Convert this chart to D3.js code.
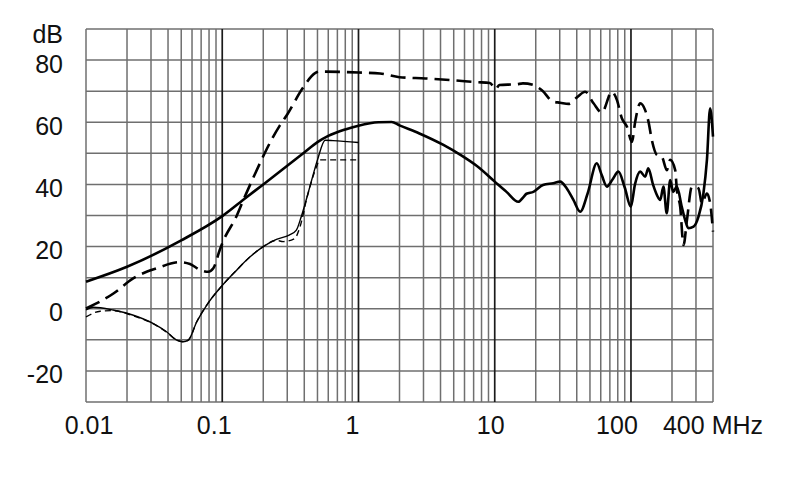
<!DOCTYPE html>
<html>
<head>
<meta charset="utf-8">
<script src="https://cdn.jsdelivr.net/npm/d3@7"></script>
<style>
  html, body { margin: 0; padding: 0; background: #fff; }
  svg { display: block; }
  text { font-family: "Liberation Sans", Arial, sans-serif; fill: #111; }
</style>
</head>
<body>
<svg id="chart" width="790" height="499"></svg>
<script>
// ---- data (frequency in MHz, level in dB) ----
const thickSolidF  = [0.01, 0.02, 0.05, 0.1, 0.15, 0.2, 0.3, 0.4, 0.5, 0.6, 0.8, 1, 1.4, 1.75, 2, 2.8, 4.2, 5.6, 7.4, 10, 12.2, 14.9, 16.3, 17.1, 19.2, 22.6, 26.9, 30.2, 33.8, 37.8, 42.4, 48, 56.1, 61, 66.5, 73, 80.9, 90, 99.8, 107, 116.9, 127, 134, 145, 155, 164, 173, 183, 194, 204, 217, 236, 250, 264, 288, 313, 340, 361, 381, 400];
const thickSolidDb = [8.7, 13.5, 22, 29.8, 35.8, 40, 46, 50.3, 53.6, 55.6, 57.7, 58.9, 60, 60.1, 59, 56.4, 52.7, 49.5, 45.9, 40.9, 37.6, 34.4, 36, 37, 37.6, 39.8, 40.4, 40.9, 38.7, 35, 31.2, 37, 46.8, 43, 39.3, 41.5, 44.1, 39, 32.8, 40, 44.1, 42.5, 45.2, 40, 36.6, 35, 39.3, 30.7, 41.4, 37.6, 39.3, 32.8, 28.5, 25.9, 26.4, 29.6, 37, 47.9, 64.5, 55.4];

const thickDashF  = [0.01, 0.0159, 0.0222, 0.033, 0.049, 0.058, 0.069, 0.079, 0.086, 0.096, 0.101, 0.128, 0.143, 0.19, 0.21, 0.265, 0.3, 0.39, 0.48, 0.52, 1, 1.44, 2, 3.1, 4.7, 7.4, 9.2, 9.8, 10.2, 10.8, 14.4, 16.1, 19.2, 22.3, 26.9, 30.2, 34.8, 40.1, 46.1, 53.1, 61.1, 72.4, 78.8, 85.7, 93.3, 101.6, 107.4, 116.9, 127.1, 134.4, 142.3, 154.8, 168.5, 183.4, 194.1, 211.1, 217.3, 229.8, 243.1, 257.5, 280, 313.3, 331.6, 360.8, 381.4, 400];
const thickDashDb = [0.1, 4.9, 9.8, 13, 15, 14.4, 12.5, 11.9, 13, 19, 21.5, 30, 35, 47, 51, 59, 62.5, 71, 75.8, 76.3, 76, 75.7, 74.5, 74.1, 73.6, 72.9, 72.6, 71.5, 70.7, 72, 72.2, 72.5, 72, 70.2, 66.6, 66.3, 65.9, 68, 69.8, 66.1, 63.1, 69.8, 67.2, 61.3, 58.6, 53.7, 60.2, 66.1, 63.9, 60.2, 54.3, 49.5, 48.9, 44.6, 47.9, 44.6, 38.2, 32.8, 20.5, 28.5, 39.3, 38.7, 33.9, 37.1, 33.9, 24.8];

const thinSolidF  = [0.01, 0.0113, 0.0158, 0.022, 0.031, 0.039, 0.0463, 0.0518, 0.0564, 0.065, 0.077, 0.096, 0.128, 0.16, 0.2, 0.25, 0.31, 0.35, 0.38, 0.44, 0.5, 0.57, 0.65, 1.0];
const thinSolidDb = [-0.4, 0.5, -0.4, -2, -4.7, -7.4, -10.1, -10.6, -10.1, -4.2, 1.2, 6.6, 12.5, 16.7, 20, 22.3, 23.7, 25.3, 29.6, 39.3, 47.9, 54.2, 54.1, 53.5];

const thinDashF  = [0.01, 0.0127, 0.0158, 0.022, 0.031, 0.039, 0.0463, 0.0518, 0.0564, 0.065, 0.077, 0.096, 0.128, 0.16, 0.2, 0.25, 0.28, 0.34, 0.37, 0.42, 0.49, 0.52, 1.0];
const thinDashDb = [-2.6, -0.8, -0.6, -2.2, -4.8, -7.5, -10.1, -10.6, -10.1, -4.2, 1.2, 6.6, 12.5, 16.7, 20, 22, 21.6, 22.6, 26, 36, 45.5, 47.9, 47.9];

const yTicks = [80, 60, 40, 20, 0, -20];
const xTickValues = [0.01, 0.1, 1, 10, 100, 400];
const xTickLabels = ["0.01", "0.1", "1", "10", "100", "400 MHz"];
const yUnit = "dB";

// ---- layout ----
const svg = d3.select("#chart");
const x = d3.scaleLog().domain([0.01, 400]).range([86, 713]);
const y = d3.scaleLinear().domain([-30, 90]).range([402, 29]);

// grid: vertical
const vLines = [];
for (let e = -2; e <= 2; e++) {
  for (let k = 1; k <= 9; k++) {
    const v = k * Math.pow(10, e);
    if (v <= 400.0001) vLines.push({ v, decade: k === 1 });
  }
}

const grid = svg.append("g");
grid.selectAll("line.h").data(d3.range(-30, 91, 10)).join("line")
  .attr("x1", x(0.01)).attr("x2", x(400))
  .attr("y1", d => y(d)).attr("y2", d => y(d))
  .attr("stroke", "#6f6f6f").attr("stroke-width", 1.5);

grid.selectAll("line.v").data(vLines).join("line")
  .attr("x1", d => x(d.v)).attr("x2", d => x(d.v))
  .attr("y1", y(90)).attr("y2", y(-30))
  .attr("stroke", d => (d.decade && d.v > 0.01) ? "#1a1a1a" : "#6f6f6f")
  .attr("stroke-width", d => (d.decade && d.v > 0.01) ? 1.7 : 1.5);

// curves
const line = d3.line().x(d => x(d[0])).y(d => y(d[1])).curve(d3.curveMonotoneX);
function zip(f, v) { return f.map((ff, i) => [ff, v[i]]); }

const curves = svg.append("g").attr("fill", "none").attr("stroke", "#000")
  .attr("stroke-linejoin", "round");

curves.append("path").attr("d", line(zip(thinSolidF, thinSolidDb)))
  .attr("stroke-width", 1.4);
curves.append("path").attr("d", line(zip(thinDashF, thinDashDb)))
  .attr("stroke-width", 1.4).attr("stroke-dasharray", "6,4");
curves.append("path").attr("d", line(zip(thickSolidF, thickSolidDb)))
  .attr("stroke-width", 2.6);
curves.append("path").attr("d", line(zip(thickDashF, thickDashDb)))
  .attr("stroke-width", 2.6).attr("stroke-dasharray", "15,7");

// y labels
const fs = 25;
svg.append("g").selectAll("text").data(yTicks).join("text")
  .attr("x", 63).attr("y", d => y(d) + 12.5)
  .attr("text-anchor", "end").attr("font-size", fs)
  .text(d => d);
svg.append("text").attr("x", 63).attr("y", 43)
  .attr("text-anchor", "end").attr("font-size", fs).text(yUnit);

// x labels
const xLabelShift = [3, -8, -6, -4, -14, 0];
svg.append("g").selectAll("text").data(xTickValues).join("text")
  .attr("x", (d, i) => x(d) + xLabelShift[i]).attr("y", 434)
  .attr("text-anchor", "middle").attr("font-size", fs)
  .text((d, i) => xTickLabels[i]);
</script>
</body>
</html>
